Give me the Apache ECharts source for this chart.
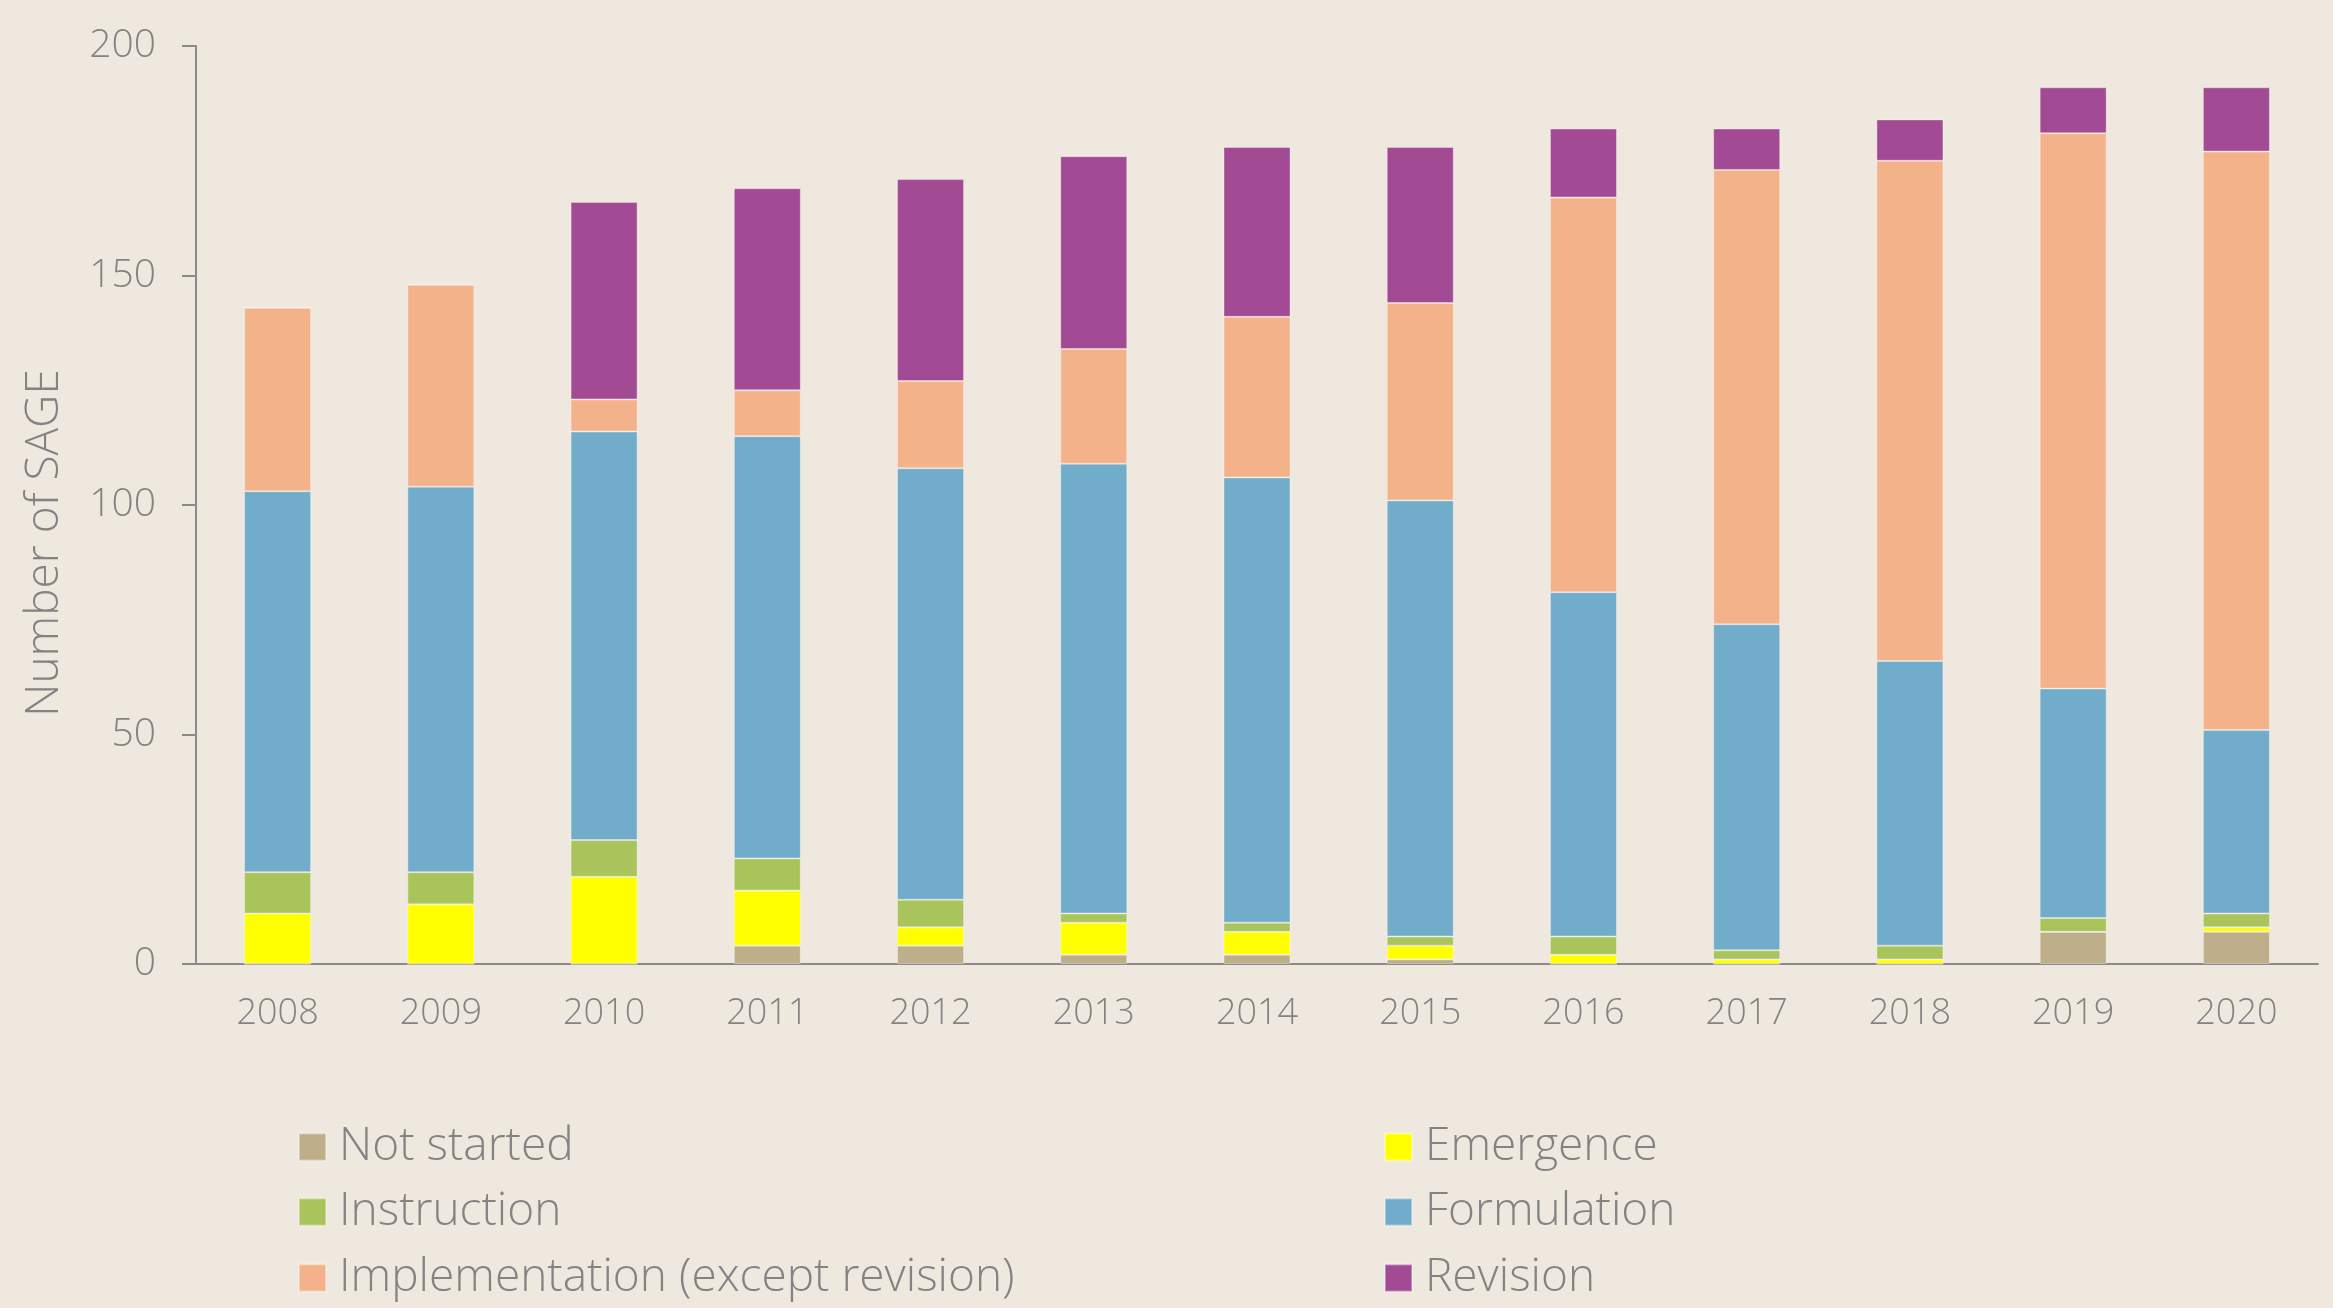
<!DOCTYPE html>
<html>
<head>
<meta charset="utf-8">
<script src="https://cdn.jsdelivr.net/npm/echarts@6/dist/echarts.min.js"></script>
<style>
html,body{margin:0;padding:0;background:#EFE8DF;}
#chart{width:2333px;height:1308px;}
</style>
</head>
<body>
<div id="chart"></div>
<script>
const years = ['2008','2009','2010','2011','2012','2013','2014','2015','2016','2017','2018','2019','2020'];
const notStarted     = [0, 0, 0, 4, 4, 2, 2, 1, 0, 0, 0, 7, 7];
const emergence      = [11, 13, 19, 12, 4, 7, 5, 3, 2, 1, 1, 0, 1];
const instruction    = [9, 7, 8, 7, 6, 2, 2, 2, 4, 2, 3, 3, 3];
const formulation    = [83, 84, 89, 92, 94, 98, 97, 95, 75, 71, 62, 50, 40];
const implementation = [40, 44, 7, 10, 19, 25, 35, 43, 86, 99, 109, 121, 126];
const revision       = [0, 0, 43, 44, 44, 42, 37, 34, 15, 9, 9, 10, 14];
const yTicks = [0, 50, 100, 150, 200];

const FONT = '"Open Sans", "DejaVu Sans", sans-serif';
const TXT = '#838383';
const AX = '#8a8a8a';

const seriesDefs = [
  ['Not started', notStarted, '#BCAF89'],
  ['Emergence', emergence, '#FFFF00'],
  ['Instruction', instruction, '#A8C45A'],
  ['Formulation', formulation, '#72ACCB'],
  ['Implementation (except revision)', implementation, '#F3B28A'],
  ['Revision', revision, '#A24A93']
];

// legend slots: [name, left, top]
const legendSlots = [
  ['Not started', 298, 1124],
  ['Emergence', 1384, 1124],
  ['Instruction', 298, 1189],
  ['Formulation', 1384, 1189],
  ['Implementation (except revision)', 298, 1255],
  ['Revision', 1384, 1255]
];

const chart = echarts.init(document.getElementById('chart'));
const legendText = {color: TXT, fontSize: 46, fontFamily: FONT, fontWeight: 300, padding: [0,0,0,8]};
chart.setOption({
  backgroundColor: '#EFE8DF',
  animation: false,
  grid: {left: 196, right: 15, top: 46, bottom: 344},
  legend: legendSlots.map(([name, l, t]) => ({
    left: l, top: t, itemWidth: 27, itemHeight: 27, icon: 'rect', padding: 0,
    textStyle: legendText, data: [name]
  })),
  xAxis: {
    type: 'category', data: years,
    axisLine: {lineStyle: {color: AX, width: 2}},
    axisTick: {length: 14, lineStyle: {color: AX, width: 2}},
    axisLabel: {color: TXT, fontSize: 36, fontFamily: FONT, fontWeight: 300, margin: 32}
  },
  yAxis: {
    type: 'value', min: yTicks[0], max: yTicks[yTicks.length-1], interval: 50,
    splitLine: {show: false},
    axisLine: {show: true, lineStyle: {color: AX, width: 2}},
    axisTick: {show: true, length: 14, lineStyle: {color: AX, width: 2}},
    axisLabel: {color: TXT, fontSize: 39, fontFamily: FONT, fontWeight: 300, margin: 40}
  },
  graphic: [{
    type: 'text', x: 45, y: 543, rotation: Math.PI / 2,
    style: {text: 'Number of SAGE', fill: TXT, fontSize: 46, fontFamily: FONT, fontWeight: 300,
            align: 'center', verticalAlign: 'middle'}
  }],
  series: seriesDefs.map(([name, data, color]) => ({
    name, type: 'bar', stack: 'total', data, barWidth: 67,
    itemStyle: {color, borderColor: 'rgba(255,255,255,0.35)', borderWidth: 1}
  }))
});
</script>
</body>
</html>
